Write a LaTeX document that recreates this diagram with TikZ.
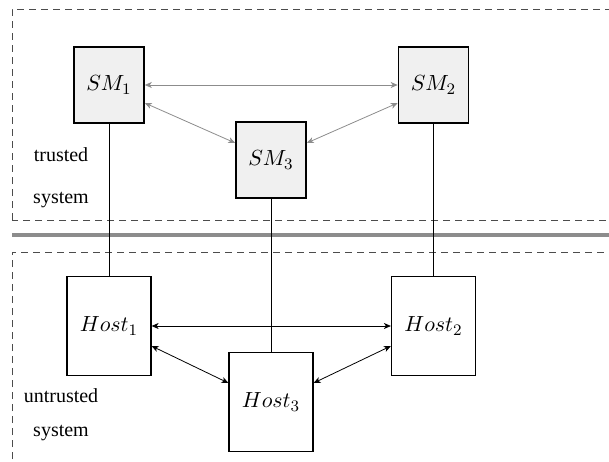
\documentclass[tikz,border=0pt]{standalone}
\usepackage[no-math]{fontspec}
\setmainfont{Liberation Serif}
\usetikzlibrary{arrows.meta}

\begin{document}
\begin{tikzpicture}[x=5pt, y=5pt,
  smbox/.style={draw, thick, fill=black!6, minimum width=35pt, minimum height=38pt, inner sep=0pt, font=\fontsize{11}{13}\selectfont},
  hostbox/.style={draw, semithick, fill=white, minimum width=42pt, minimum height=49.5pt, inner sep=0pt, font=\fontsize{11}{13}\selectfont},
  smlink/.style={black!45, {Stealth[length=3.5pt,width=3pt,inset=1pt]}-{Stealth[length=3.5pt,width=3pt,inset=1pt]}},
  hostlink/.style={black, {Stealth[length=3.5pt,width=3pt,inset=1pt]}-{Stealth[length=3.5pt,width=3pt,inset=1pt]}},
  zone/.style={draw=black!70, dash pattern=on 3.5pt off 2.5pt}]
  \useasboundingbox (0,0) rectangle (60.9,46.1);
  \clip (0,0) rectangle (60.9,46.1);
  % zones
  \draw[zone] (1.2,24.1) rectangle (62,45.2);
  \draw[zone] (1.2,-1) rectangle (62,20.9);
  \draw[black!45, line width=2pt] (1.2,22.6) -- (62,22.6);
  \node[align=center] (trusted) at (6.1,28.3) {trusted\\[9pt]system};
  \node[align=center] (untrusted) at (6.1,4.6) {untrusted\\[5pt]system};
  % security modules
  \node[smbox] (sm1) at (10.9,37.6) {$SM_1$};
  \node[smbox] (sm2) at (43.35,37.6) {$SM_2$};
  \node[smbox] (sm3) at (27.1,30.1) {$SM_3$};
  % hosts
  \node[hostbox] (host1) at (10.9,13.5) {$Host_1$};
  \node[hostbox] (host2) at (43.35,13.5) {$Host_2$};
  \node[hostbox] (host3) at (27.1,5.9) {$Host_3$};
  \draw (sm1.south) -- (host1.north);
  \draw (sm2.south) -- (host2.north);
  \draw (sm3.south) -- (host3.north);
  \draw[smlink] (sm1.east) -- (sm2.west);
  \draw[smlink] ([yshift=-9pt]sm1.east) -- ([yshift=8.5pt]sm3.west);
  \draw[smlink] ([yshift=-9pt]sm2.west) -- ([yshift=8.5pt]sm3.east);
  \draw[hostlink] (host1.east) -- (host2.west);
  \draw[hostlink] ([yshift=-10pt]host1.east) -- ([yshift=9.5pt]host3.west);
  \draw[hostlink] ([yshift=-10pt]host2.west) -- ([yshift=9.5pt]host3.east);
\end{tikzpicture}
\end{document}
